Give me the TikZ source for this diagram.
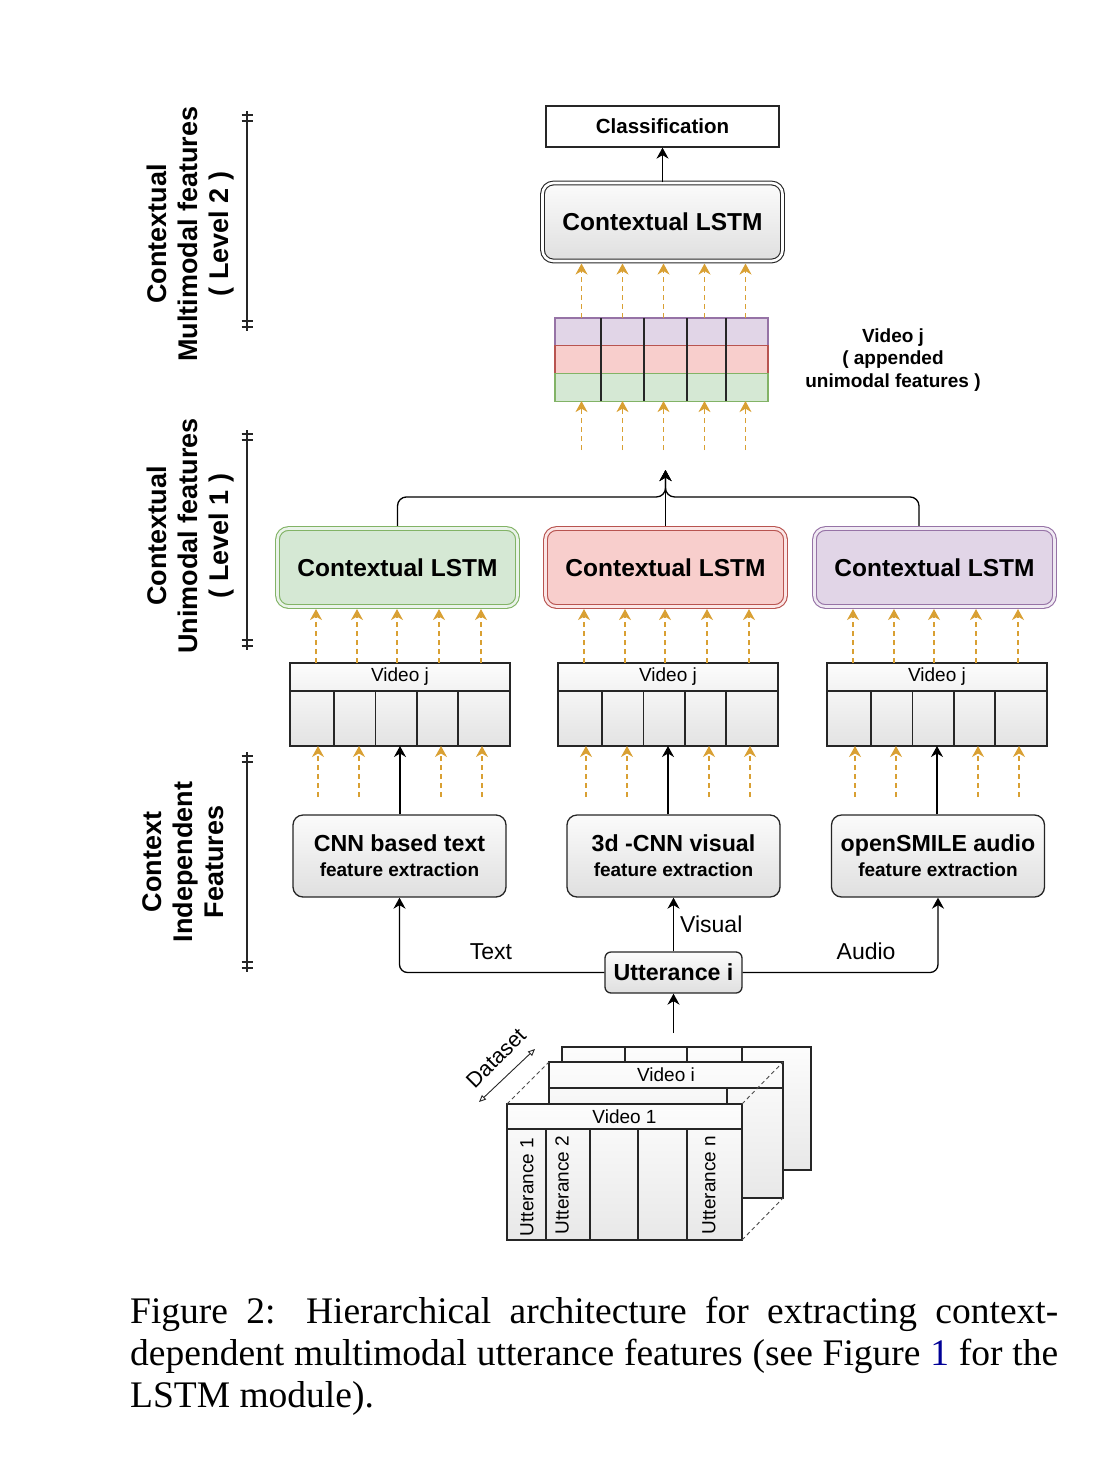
\documentclass[tikz,border=0pt]{standalone}
\usepackage{fontspec}
\setmainfont{Liberation Serif}
\setsansfont{Liberation Sans}
\usetikzlibrary{arrows.meta,positioning}
\definecolor{grnfill}{HTML}{D5E8D4}
\definecolor{grnline}{HTML}{82B366}
\definecolor{redfill}{HTML}{F8CECC}
\definecolor{redline}{HTML}{B85450}
\definecolor{purfill}{HTML}{E1D5E7}
\definecolor{purline}{HTML}{9673A6}
\definecolor{orng}{HTML}{D9A033}
\definecolor{linkblue}{RGB}{0,0,150}
%bar with double ticks at both ends, for the level labels
\newcommand{\lvlbar}[2]{%
  \draw[barline] (247,#1-4) -- (247,#2+4);
  \foreach \t in {#1,#1+6,#2-6,#2}
    \draw[barline] (241.5,\t) -- (252.5,\t);
}

\begin{document}
\begin{tikzpicture}[x=1pt,y=-1pt,
box/.style={draw=black!85,line width=1.3pt,top color=gray!3,bottom color=gray!25,inner sep=0pt},
featbox/.style={box,rounded corners=10pt,minimum width=213pt,minimum height=82pt,align=center,
  font=\sffamily\bfseries\fontsize{19}{25}\selectfont},
clsbox/.style={draw=black!85,line width=1.3pt,fill=white,minimum width=233pt,minimum height=41pt,
  inner sep=0pt,font=\sffamily\bfseries\fontsize{20.5}{24}\selectfont},
lstm/.style={rounded corners=11pt,line width=1.1pt,double distance=2.6pt,inner sep=0pt,
  minimum width=240pt,minimum height=78pt,font=\sffamily\bfseries\fontsize{24.5}{28}\selectfont},
lstmgray/.style={lstm,draw=black!85,double=white,top color=gray!3,bottom color=gray!25},
lstmgrn/.style={lstm,draw=grnline,double=grnfill!50!white,fill=grnfill},
lstmred/.style={lstm,draw=redline,double=redfill!50!white,fill=redfill},
lstmpur/.style={lstm,draw=purline,double=purfill!50!white,fill=purfill},
hdr/.style={draw=black!85,line width=1.2pt,top color=gray!2,bottom color=gray!10,inner sep=0pt,
  outer sep=0pt,minimum width=220pt,minimum height=28pt,font=\sffamily\fontsize{19}{22}\selectfont},
cellrow/.style={draw=black!85,line width=1.2pt,top color=gray!8,bottom color=gray!22,inner sep=0pt,
  outer sep=0pt,minimum width=220pt,minimum height=55pt},
catrow/.style={line width=1.1pt,minimum width=213pt,minimum height=27.7pt,inner sep=0pt,outer sep=0pt},
cellline/.style={draw=black!85,line width=1.2pt},
card/.style={draw=black!85,line width=1.2pt,top color=gray!2,bottom color=gray!18},
dashln/.style={draw=black!70,line width=0.9pt,dash pattern=on 4pt off 3pt},
barline/.style={draw=black!85,line width=1.1pt},
arr/.style={draw=black,line width=1.3pt,-{Stealth[length=11pt,width=12pt,inset=3.5pt]}},
orarr/.style={draw=orng,line width=1.2pt,dash pattern=on 5pt off 4pt,-{Stealth[length=11pt,width=12pt,inset=3.5pt]}},
dsarr/.style={draw=black!85,line width=0.9pt,{Triangle[open,length=7pt,width=6pt]}-{Triangle[open,length=7pt,width=6pt]}},
sidelbl/.style={rotate=90,align=center,font=\sffamily\bfseries\fontsize{27}{31}\selectfont},
smalltxt/.style={inner sep=0pt,font=\sffamily\fontsize{19}{22}\selectfont},
conlbl/.style={font=\sffamily\fontsize{23}{26}\selectfont}]
\useasboundingbox (0,0) rectangle (1102,1462);

%level labels on the left
\node[sidelbl] (lvl2) at (191,234) {Contextual\\Multimodal features\\( Level 2 )};
\node[sidelbl] (lvl1) at (191,536) {Contextual\\Unimodal features\\( Level 1 )};
\node[sidelbl] (ctxind) at (183,862) {Context\\Independent\\Features};
\lvlbar{115}{327}
\lvlbar{434}{646}
\lvlbar{756}{968}

%level 2
\node[clsbox] (cls) at (662.5,126.5) {Classification};
\node[lstmgray] (lstmTop) at (662.5,222) {Contextual LSTM};
\draw[arr] (lstmTop.north) -- (cls.south);

%appended unimodal features of video j
\node[catrow,draw=purline,fill=purfill] (catP) at (661.5,331.85) {};
\node[catrow,draw=redline,fill=redfill,below=0pt of catP] (catR) {};
\node[catrow,draw=grnline,fill=grnfill,below=0pt of catR] (catG) {};
\foreach \d in {46,89,132,171}
  \draw[cellline] ([xshift=\d pt]catP.north west) -- ([xshift=\d pt]catG.south west);
\foreach \o in {-80,-39,2,43,84}{
  \draw[orarr,shorten >=2pt] ([xshift=\o pt]catP.north) -- ([xshift=\o pt]catP.north |- lstmTop.south);
  \draw[orarr] ([xshift=\o pt]catG.south) ++(0,49) -- ([xshift=\o pt]catG.south);
}
\node[align=center,font=\sffamily\bfseries\fontsize{19}{22.5}\selectfont] (catlbl) at (893,360)
  {Video j\\( appended\\unimodal features )};

%level 1: one lstm per modality
\foreach \m/\cx/\sty in {T/400/lstmgrn,V/668/lstmred,A/937/lstmpur}{
  \node[\sty] (lstm\m) at (\cx-2.5,567.5) {Contextual LSTM};
  \node[hdr] (vj\m) at (\cx,677) {Video j};
  \node[cellrow,below=0pt of vj\m] (ur\m) {};
  \foreach \d in {44,85.5,127,168}
    \draw[cellline] ([xshift=\d pt]ur\m.north west) -- ([xshift=\d pt]ur\m.south west);
  \foreach \o in {-84,-43,-3,39,81}
    \draw[orarr,shorten >=2pt] ([xshift=\o pt]vj\m.north) -- ([xshift=\o pt]vj\m.north |- lstm\m.south);
  \foreach \o in {-82,-41,41,82}
    \draw[orarr] ([xshift=\o pt]ur\m.south) ++(0,51) -- ([xshift=\o pt]ur\m.south);
}

%merge into the appended features
\coordinate (mrg) at (665.5,470);
\draw[arr,rounded corners=9pt,shorten <=2pt] (lstmT.north) -- ++(0,-31) -| (mrg);
\draw[arr,rounded corners=9pt,shorten <=2pt] ([xshift=-15.5pt]lstmA.north) -- ++(0,-31) -| (mrg);
\draw[arr,shorten <=2pt] (lstmV.north) -- (mrg);

%context independent features
\node[featbox] (featT) at (399.5,856) {{\fontsize{23.2}{25}\selectfont CNN based text}\\feature extraction};
\node[featbox] (featV) at (673.5,856) {{\fontsize{23.2}{25}\selectfont 3d -CNN visual}\\feature extraction};
\node[featbox] (featA) at (938,856) {{\fontsize{23.2}{25}\selectfont openSMILE audio}\\feature extraction};
\draw[arr] (featT.north -| urT.south) -- (urT.south);
\draw[arr] (featV.north -| urV.south) -- (urV.south);
\draw[arr] (featA.north -| urA.south) -- (urA.south);

\node[box,rounded corners=6pt,minimum width=137pt,minimum height=41pt,
  font=\sffamily\bfseries\fontsize{23.2}{27}\selectfont] (utt) at (673.5,972.5) {Utterance i};
\draw[arr] (utt.north) -- node[conlbl,right,inner sep=6pt] {Visual} (featV.south);
\draw[arr,rounded corners=8pt] (utt.west) -| node[conlbl,pos=0.277,above=9pt] {Text} (featT.south);
\draw[arr,rounded corners=8pt] (utt.east) -| node[conlbl,pos=0.316,above=9pt] {Audio} (featA.south);
\coordinate (dstop) at (673.5,1033);
\draw[arr] (dstop) -- (utt.south);

%dataset stack
\draw[card] (562,1047) rectangle (811,1170);
\foreach \d in {625,687,742} \draw[cellline] (\d,1047) -- (\d,1062);
\draw[card] (549,1062) rectangle (783,1198);
\draw[cellline] (549,1088) -- (783,1088) (727,1088) -- (727,1104);
\node[smalltxt] (vi) at (666,1075) {Video i};
\draw[card] (507,1104) rectangle (742,1240);
\draw[cellline] (507,1129) -- (742,1129);
\foreach \d in {546,590,638,687} \draw[cellline] (\d,1129) -- (\d,1240);
\node[smalltxt] (v1) at (624.5,1116.5) {Video 1};
\node[smalltxt,rotate=90] (u1) at (527,1187) {Utterance 1};
\node[smalltxt,rotate=90] (u2) at (562,1185) {Utterance 2};
\node[smalltxt,rotate=90] (un) at (709,1185) {Utterance n};
\draw[dashln] (507,1104) -- (549,1062) (742,1104) -- (783,1062) (742,1240) -- (783,1198);
\draw[dsarr] (479,1102) -- (535,1049);
\node[smalltxt,rotate=45,font=\sffamily\fontsize{21.5}{24}\selectfont] (dslbl) at (496,1058) {Dataset};

%caption
\node[anchor=north west,inner sep=0pt,text width=928pt,align=justify,
  font=\rmfamily\fontsize{37.5}{42}\selectfont] (cap) at (130,1297)
  {Figure 2: Hierarchical architecture for extracting context-\linebreak
   dependent multimodal utterance features (see Figure~\textcolor{linkblue}{1} for the\linebreak
   LSTM module).};

\end{tikzpicture}
\end{document}
